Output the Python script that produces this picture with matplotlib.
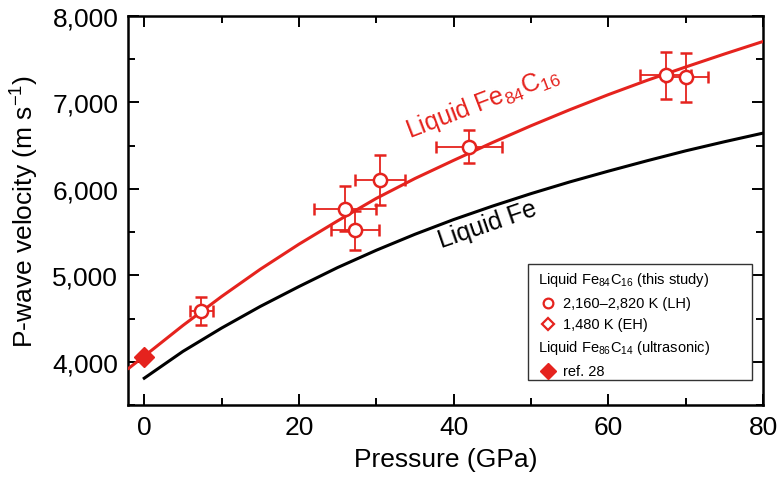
import matplotlib
matplotlib.use("Agg")
import matplotlib.pyplot as plt
from matplotlib.patches import Rectangle
from matplotlib.ticker import FuncFormatter, MultipleLocator

plt.rcParams["font.family"] = ["Liberation Sans", "DejaVu Sans"]
plt.rcParams["mathtext.fontset"] = "custom"
plt.rcParams["mathtext.rm"] = "Liberation Sans"
plt.rcParams["mathtext.it"] = "Liberation Sans:italic"
plt.rcParams["mathtext.bf"] = "Liberation Sans:bold"

RED = "#e5231e"

# --- fitted curves ---
p_fec = [-2, 0, 5, 10, 15, 20, 25, 30, 35, 40, 45, 50, 55, 60, 65, 70, 75, 80]
v_fec = [3925, 4065, 4420, 4755, 5070, 5360, 5630, 5890, 6120, 6330,
         6535, 6730, 6915, 7090, 7255, 7410, 7560, 7705]

p_fe = [0, 5, 10, 15, 20, 25, 30, 35, 40, 45, 50, 55, 60, 65, 70, 75, 80]
v_fe = [3810, 4120, 4390, 4640, 4870, 5090, 5290, 5475, 5645, 5800,
        5945, 6080, 6205, 6325, 6440, 6545, 6645]

# --- measured points (LH) ---
p_lh = [7.4, 25.9, 27.2, 30.5, 42.0, 67.4, 70.1]
v_lh = [4590, 5770, 5520, 6100, 6490, 7315, 7290]
p_err = [1.5, 4.0, 3.1, 3.2, 4.3, 3.3, 2.8]
v_err = [160, 263, 228, 290, 195, 270, 285]

# --- ultrasonic reference ---
p_ref = [0.0]
v_ref = [4050]

fig = plt.figure(figsize=(7.81, 4.85), dpi=100)
ax = fig.add_axes([0.1639, 0.1629, 0.8131, 0.8021])

ax.plot(p_fe, v_fe, color="black", lw=2.2, zorder=2)
ax.plot(p_fec, v_fec, color=RED, lw=2.2, zorder=3)
ax.errorbar(p_lh, v_lh, xerr=p_err, yerr=v_err, fmt="o", ms=9.5,
            mfc="white", mec=RED, mew=1.8, ecolor=RED, elinewidth=1.3,
            capsize=4, capthick=1.3, zorder=5)
ax.plot(p_ref, v_ref, "D", color=RED, ms=10, zorder=6, clip_on=False)

ax.text(43.7, 7003, "Liquid Fe$_{84}$C$_{16}$", color=RED, fontsize=18,
        rotation=21, ha="center", va="center", rotation_mode="anchor")
ax.text(44.4, 5590, "Liquid Fe", color="black", fontsize=18,
        rotation=19, ha="center", va="center", rotation_mode="anchor")

ax.set_xlim(-2.1, 80)
ax.set_ylim(3500, 8000)
ax.xaxis.set_major_locator(MultipleLocator(20))
ax.xaxis.set_minor_locator(MultipleLocator(10))
ax.yaxis.set_major_locator(MultipleLocator(1000))
ax.yaxis.set_minor_locator(MultipleLocator(500))
ax.yaxis.set_major_formatter(FuncFormatter(lambda v, _: f"{v:,.0f}"))

ax.tick_params(which="both", direction="in", top=True, right=True,
               width=1.4, labelsize=19)
ax.tick_params(which="major", length=8, pad=7)
ax.tick_params(which="minor", length=5)
for sp in ax.spines.values():
    sp.set_linewidth(1.8)

ax.set_xlabel("Pressure (GPa)", fontsize=19, labelpad=6)
ax.set_ylabel("P-wave velocity (m s$^{-1}$)", fontsize=19, labelpad=8)

# legend box drawn by hand so headers sit left of the markers
ax.add_patch(Rectangle((0.630, 0.064), 0.353, 0.298, transform=ax.transAxes,
                       fill=False, edgecolor="#333333", lw=1.0, zorder=7))
lg_size = 10.5
ax.text(0.645, 0.324, "Liquid Fe$_{84}$C$_{16}$ (this study)",
        transform=ax.transAxes, fontsize=lg_size, va="center", zorder=8)
ax.plot([0.661], [0.262], "o", ms=7, mfc="white", mec=RED, mew=1.6,
        transform=ax.transAxes, clip_on=False, zorder=8)
ax.text(0.685, 0.262, "2,160\u20132,820 K (LH)", transform=ax.transAxes,
        fontsize=lg_size, va="center", zorder=8)
ax.plot([0.661], [0.208], "D", ms=6.5, mfc="white", mec=RED, mew=1.6,
        transform=ax.transAxes, clip_on=False, zorder=8)
ax.text(0.685, 0.208, "1,480 K (EH)", transform=ax.transAxes,
        fontsize=lg_size, va="center", zorder=8)
ax.text(0.645, 0.149, "Liquid Fe$_{86}$C$_{14}$ (ultrasonic)",
        transform=ax.transAxes, fontsize=lg_size, va="center", zorder=8)
ax.plot([0.661], [0.087], "D", ms=8, color=RED,
        transform=ax.transAxes, clip_on=False, zorder=8)
ax.text(0.685, 0.087, "ref. 28", transform=ax.transAxes,
        fontsize=lg_size, va="center", zorder=8)

fig.savefig("out.png", dpi=100)
